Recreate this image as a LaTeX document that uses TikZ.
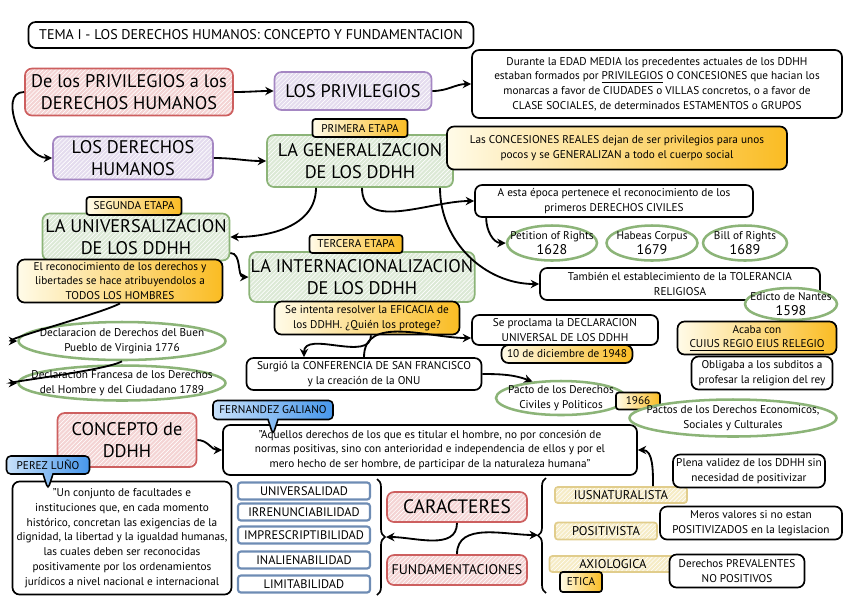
\documentclass[tikz,border=0pt]{standalone}
\usepackage{fontspec}
\setmainfont{PT Sans}
\usetikzlibrary{positioning, shapes.geometric, shapes.callouts, arrows.meta, patterns, decorations.pathreplacing}
\definecolor{ddRed}{RGB}{205,95,95}
\definecolor{ddRedFill}{RGB}{244,212,212}
\definecolor{ddPurple}{RGB}{165,135,195}
\definecolor{ddPurpleFill}{RGB}{228,220,238}
\definecolor{ddGreen}{RGB}{140,180,120}
\definecolor{ddGreenFill}{RGB}{220,233,214}
\definecolor{ddGoldLight}{RGB}{255,251,232}
\definecolor{ddGold}{RGB}{250,188,35}
\definecolor{ddBlueLight}{RGB}{200,225,250}
\definecolor{ddBlue}{RGB}{70,150,235}
\definecolor{ddSteel}{RGB}{110,140,180}
\definecolor{ddSand}{RGB}{246,236,198}
\definecolor{ddSandLine}{RGB}{225,205,140}

\newcommand{\bigtxt}{\fontsize{13}{16}\selectfont}
\newcommand{\smalltxt}{\fontsize{8}{10.5}\selectfont}
\newcommand{\tinytxt}{\fontsize{8}{9}\selectfont}
\newcommand{\yeartxt}{\fontsize{10}{12}\selectfont}

\tikzset{
	ddbox/.style={rounded corners=5pt, line width=1.2pt, align=center, inner sep=1pt},
	titlebox/.style={ddbox, draw=black, fill=white, font=\fontsize{10}{12}\selectfont},
	redbox/.style={ddbox, draw=ddRed, preaction={fill=ddRedFill}, pattern=north east lines, pattern color=white, font=\bigtxt},
	purplebox/.style={ddbox, draw=ddPurple, preaction={fill=ddPurpleFill}, pattern=north east lines, pattern color=white, font=\bigtxt},
	greenbox/.style={ddbox, draw=ddGreen, preaction={fill=ddGreenFill}, pattern=north east lines, pattern color=white, font=\bigtxt},
	notebox/.style={ddbox, draw=black, fill=white, font=\smalltxt},
	goldbox/.style={ddbox, draw=black, left color=ddGoldLight, right color=ddGold, font=\smalltxt},
	tagbox/.style={goldbox, rounded corners=2pt, font=\tinytxt},
	bluetag/.style={rectangle callout, rounded corners=3pt, draw=black, line width=1.1pt, left color=ddBlueLight, right color=ddBlue, font=\tinytxt, align=center, inner sep=1pt},
	ovaltext/.style={font=\smalltxt, align=center, inner sep=0pt},
	oval/.style={ellipse, draw=ddGreen, line width=1.8pt, fill=white, inner sep=0pt, label={[ovaltext]center:#1}},
	charbox/.style={ddbox, rounded corners=2pt, draw=ddSteel, line width=1.5pt, fill=white, font=\fontsize{8.8}{10}\selectfont},
	sandbox/.style={ddbox, rounded corners=2pt, draw=ddSandLine, preaction={fill=ddSand}, pattern=north east lines, pattern color=white, font=\fontsize{9}{10}\selectfont},
	link/.style={line width=1.3pt, -{Stealth[length=6pt, width=6pt]}},
	bracket/.style={line width=1.2pt, decorate, decoration={brace, amplitude=2mm}}
}

\begin{document}
\begin{tikzpicture}[x=0.25mm, y=-0.25mm]
	\useasboundingbox (0,0) rectangle (848,602);
	
	% Title
	\node[titlebox, minimum width=111.25mm, minimum height=6.5mm] (title) at (251,35) {TEMA I - LOS DERECHOS HUMANOS: CONCEPTO Y FUNDAMENTACION};
	
	% Privileges
	\node[redbox, minimum width=52mm, minimum height=11.75mm] (priv) at (129,92) {De los PRIVILEGIOS a los\\DERECHOS HUMANOS};
	\node[purplebox, minimum width=39.25mm, minimum height=9.5mm] (privs) at (353,91) {LOS PRIVILEGIOS};
	\node[notebox, minimum width=92.5mm, minimum height=17mm] (durante) at (657,84) {Durante la EDAD MEDIA los precedentes actuales de los DDHH\\estaban formados por \underline{PRIVILEGIOS} O CONCESIONES que hacian los\\monarcas a favor de CIUDADES o VILLAS concretos, o a favor de\\CLASE SOCIALES, de determinados ESTAMENTOS o GRUPOS};
	\node[purplebox, minimum width=40mm, minimum height=10.75mm] (ldh) at (133,158) {LOS DERECHOS\\HUMANOS};
	
	% First stage
	\node[greenbox, minimum width=46.5mm, minimum height=13mm] (gen) at (360,161) {LA GENERALIZACION\\DE LOS DDHH};
	\node[tagbox, minimum width=23.75mm, minimum height=4.5mm] (tag1) at (360,128) {PRIMERA ETAPA};
	\node[goldbox, minimum width=85mm, minimum height=10.75mm] (conc) at (617,148) {Las CONCESIONES REALES dejan de ser privilegios para unos\\pocos y se GENERALIZAN a todo el cuerpo social};
	\node[notebox, minimum width=69.5mm, minimum height=8mm] (epoca) at (614,201) {A esta época pertenece el reconocimiento de los\\primeros DERECHOS CIVILES};
	\node[oval={Petition of Rights\\{\yeartxt 1628}}, minimum width=22.5mm, minimum height=8.75mm] (pet) at (552,243) {};
	\node[oval={Habeas Corpus\\{\yeartxt 1679}}, minimum width=22.75mm, minimum height=8.75mm] (hab) at (652,243) {};
	\node[oval={Bill of Rights\\{\yeartxt 1689}}, minimum width=21mm, minimum height=8.75mm] (bill) at (745,243) {};
	\node[notebox, minimum width=70mm, minimum height=8mm] (tol) at (680,284) {También el establecimiento de la TOLERANCIA\\RELIGIOSA};
	\node[oval={Edicto de Nantes\\{\yeartxt 1598}}, minimum width=23mm, minimum height=8mm] (nantes) at (791,304) {};
	
	% Second stage
	\node[greenbox, minimum width=46.75mm, minimum height=11.75mm] (univ) at (136,237) {LA UNIVERSALIZACION\\DE LOS DDHH};
	\node[tagbox, minimum width=23.75mm, minimum height=4.5mm] (tag2) at (134,206) {SEGUNDA ETAPA};
	\node[goldbox, minimum width=51.25mm, minimum height=10.75mm] (rec) at (120,281) {El reconocimiento de los derechos y\\libertades se hace atribuyendolos a\\TODOS LOS HOMBRES};
	\node[oval={Declaracion de Derechos del Buen\\Pueblo de Virginia 1776}, minimum width=51.75mm, minimum height=9.5mm] (virg) at (122,341) {};
	\node[oval={Declaracion Francesa de los Derechos\\del Hombre y del Ciudadano 1789}, minimum width=51.75mm, minimum height=8.75mm] (fra) at (122,383) {};
	
	% Third stage
	\node[greenbox, minimum width=54.75mm, minimum height=12.5mm] (inter) at (362,277) {LA INTERNACIONALIZACION\\DE LOS DDHH};
	\node[tagbox, minimum width=23.25mm, minimum height=4.5mm] (tag3) at (356,244) {TERCERA ETAPA};
	\node[goldbox, minimum width=46.25mm, minimum height=8.25mm] (efic) at (367,318) {Se intenta resolver la EFICACIA de\\los DDHH. ¿Quién los protege?};
	\node[notebox, minimum width=58.75mm, minimum height=8mm] (surg) at (364,374) {Surgió la CONFERENCIA DE SAN FRANCISCO\\y la creación de la ONU};
	\node[notebox, minimum width=46.5mm, minimum height=7.5mm] (procl) at (565,330) {Se proclama la DECLARACION\\UNIVERSAL DE LOS DDHH};
	\node[goldbox, minimum width=32.75mm, minimum height=4.5mm] (fecha) at (567,354) {10 de diciembre de 1948};
	\node[goldbox, minimum width=39.75mm, minimum height=8.25mm] (cuius) at (757,338) {Acaba con\\\underline{CUIUS REGIO EIUS RELEGIO}};
	\node[notebox, minimum width=35.25mm, minimum height=8.25mm] (oblig) at (762,373) {Obligaba a los subditos a\\profesar la religion del rey};
	\node[oval={Pacto de los Derechos\\Civiles y Politicos}, minimum width=32.5mm, minimum height=8.5mm] (pacto) at (561,398) {};
	\node[goldbox, minimum width=11mm, minimum height=4.25mm, rounded corners=2pt] (anio) at (638,401) {1966};
	\node[oval={Pactos de los Derechos Economicos,\\Sociales y Culturales}, minimum width=51.75mm, minimum height=9.25mm] (pactos) at (733,418) {};
	
	% Concept
	\node[redbox, minimum width=34.75mm, minimum height=13.5mm] (concepto) at (127,440) {CONCEPTO de\\DDHH};
	\node[notebox, minimum width=103.5mm, minimum height=12.5mm] (quote) at (430,450) {"Aquellos derechos de los que es titular el hombre, no por concesión de\\normas positivas, sino con anterioridad e independencia de ellos y por el\\mero hecho de ser hombre, de participar de la naturaleza humana"};
	\node[bluetag, minimum width=30mm, minimum height=4.75mm, callout relative pointer={(0,-3.8mm)}] (galiano) at (273,410) {FERNANDEZ GALIANO};
	\node[notebox, minimum width=54.75mm, minimum height=28.25mm] (luno) at (122,538) {"Un conjunto de facultades e\\instituciones que, en cada momento\\histórico, concretan las exigencias de la\\dignidad, la libertad y la igualdad humanas,\\las cuales deben ser reconocidas\\positivamente por los ordenamientos\\jurídicos a nivel nacional e internacional};
	\node[bluetag, minimum width=20.75mm, minimum height=4.5mm, callout relative pointer={(0,-3.8mm)}] (perez) at (48,465) {PEREZ LUÑO};
	
	% Characters
	\foreach \cname/\cy/\ctext in {univer/491/UNIVERSALIDAD, irren/512/IRRENUNCIABILIDAD, impres/535/IMPRESCRIPTIBILIDAD, inal/560/INALIENABILIDAD, limit/584/LIMITABILIDAD}
		\node[charbox, minimum width=33mm, minimum height=4.25mm] (\cname) at (304,\cy) {\ctext};
	\draw[bracket] (377,479) -- (377,595);
	\coordinate (charsTip) at (386,537);
	\node[redbox, minimum width=35mm, minimum height=7.5mm, font=\fontsize{13.8}{15}\selectfont] (car) at (457,507) {CARACTERES};
	\node[redbox, minimum width=35mm, minimum height=7.5mm, font=\fontsize{9.9}{11}\selectfont] (fund) at (457,570) {FUNDAMENTACIONES};
	
	% Foundations
	\draw[bracket] (546,593) -- (546,478);
	\coordinate (fundTip) at (538,535);
	\node[sandbox, minimum width=33mm, minimum height=4mm] (ius) at (621,495) {IUSNATURALISTA};
	\node[sandbox, minimum width=25.5mm, minimum height=4.25mm] (pos) at (606,531) {POSITIVISTA};
	\node[sandbox, minimum width=31.75mm, minimum height=4mm] (axi) at (613,564) {AXIOLOGICA};
	\node[goldbox, minimum width=10.5mm, minimum height=5mm, rounded corners=2pt, font=\tinytxt] (etica) at (581,582) {ETICA};
	\node[notebox, minimum width=38mm, minimum height=8.25mm] (plena) at (749,471) {Plena validez de los DDHH sin\\necesidad de positivizar};
	\node[notebox, minimum width=45.5mm, minimum height=8.25mm] (meros) at (751,523) {Meros valores si no estan\\POSITIVIZADOS en la legislacion};
	\node[notebox, minimum width=33.75mm, minimum height=8.25mm] (prev) at (737,571) {Derechos PREVALENTES\\NO POSITIVOS};
	
	% Connections
	\draw[link] (priv.east) to[out=0, in=180] (privs.west);
	\draw[link] (privs.east) to[out=0, in=180] (durante.west);
	\draw[link] (priv.west) to[out=180, in=180] (ldh.west);
	\draw[link] (ldh.east) to[out=0, in=180] (gen.west);
	\draw[link] ([xshift=-11mm]gen.south) to[out=-90, in=0] (univ.east);
	\draw[link] ([xshift=0.5mm]gen.south) to[out=-90, in=180] (epoca.west);
	\draw[link] ([xshift=20mm]gen.south) to[out=-90, in=180] (tol.west);
	\draw[link] ([xshift=3mm]epoca.south west) to[out=-90, in=180] (pet.west);
	\draw[link] ([yshift=-4mm]univ.east) to[out=0, in=180] (inter.west);
	\draw[link] (rec.south) to[out=-150, in=180, looseness=0.45] (virg.west);
	\draw[link] (virg.south) to[out=-150, in=180, looseness=0.45] (fra.west);
	\draw[link] ([xshift=1mm]efic.south) to[out=-90, in=90] ([xshift=-15mm]surg.north);
	\draw[link] (surg.north) to[out=90, in=180] ([yshift=-2mm]procl.west);
	\draw[link] (surg.east) to[out=0, in=160] (pacto.150);
	\draw[link] (concepto.east) to[out=0, in=180] (quote.west);
	\draw[link] ([xshift=8mm]ius.north) to[out=90, in=0] (quote.east);
	\draw[link] (car.south) to[out=-90, in=0] (charsTip);
	\draw[link] (fund.north) to[out=90, in=180] (fundTip);
\end{tikzpicture}
\end{document}
